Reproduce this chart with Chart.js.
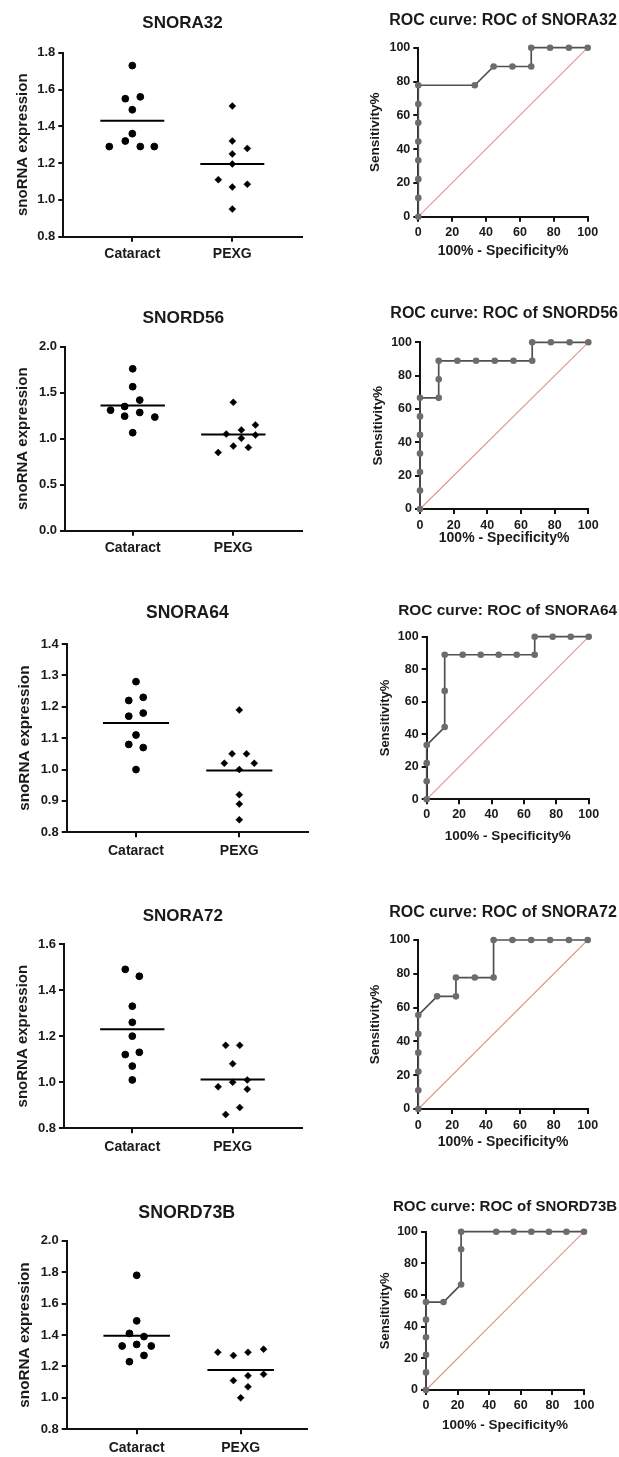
<!DOCTYPE html>
<html>
<head>
<meta charset="utf-8">
<script src="https://cdn.jsdelivr.net/npm/chart.js@4"></script>
<style>
html,body{margin:0;padding:0;background:#fff;overflow:hidden;width:619px;height:1457px;}
canvas{position:absolute;}
</style>
</head>
<body>
<script>
// ---------------- DATA ----------------
const categories = ['Cataract', 'PEXG'];
const geneNames = ['SNORA32', 'SNORD56', 'SNORA64', 'SNORA72', 'SNORD73B'];
const yAxisTitle = 'snoRNA expression';
const rocTitlePrefix = 'ROC curve: ROC of ';
const rocXTitle = '100% - Specificity%';
const rocYTitle = 'Sensitivity%';

// Scatter values (expression) and horizontal jitter within each column
const snora32Cataract = [1.73, 1.55, 1.56, 1.49, 1.36, 1.32, 1.29, 1.29, 1.29];
const snora32CataractJitter = [0, -0.07, 0.08, 0, 0, -0.07, -0.23, 0.08, 0.22];
const snora32Pexg = [1.51, 1.32, 1.28, 1.25, 1.195, 1.11, 1.085, 1.07, 0.95];
const snora32PexgJitter = [0, 0, 0.15, 0, 0, -0.14, 0.15, 0, 0];

const snord56Cataract = [1.76, 1.565, 1.42, 1.35, 1.31, 1.245, 1.285, 1.235, 1.065];
const snord56CataractJitter = [0, 0, 0.07, -0.08, -0.22, -0.08, 0.07, 0.22, 0];
const snord56Pexg = [1.395, 1.05, 1.095, 1.005, 1.15, 1.04, 0.92, 0.905, 0.85];
const snord56PexgJitter = [0, -0.07, 0.08, 0.08, 0.22, 0.22, 0, 0.15, -0.15];

const snora64Cataract = [1.28, 1.22, 1.23, 1.17, 1.18, 1.11, 1.08, 1.07, 1.0];
const snora64CataractJitter = [0, -0.07, 0.07, -0.07, 0.07, 0, -0.07, 0.07, 0];
const snora64Pexg = [1.19, 1.05, 1.05, 1.02, 1.02, 1.0, 0.92, 0.89, 0.84];
const snora64PexgJitter = [0, -0.07, 0.07, -0.145, 0.145, 0, 0, 0, 0];

const snora72Cataract = [1.49, 1.46, 1.33, 1.26, 1.2, 1.12, 1.13, 1.07, 1.01];
const snora72CataractJitter = [-0.07, 0.07, 0, 0, 0, -0.07, 0.07, 0, 0];
const snora72Pexg = [1.16, 1.16, 1.08, 0.98, 1.0, 1.01, 0.97, 0.89, 0.86];
const snora72PexgJitter = [-0.07, 0.07, 0, -0.145, 0, 0.145, 0.145, 0.07, -0.07];

const snord73bCataract = [1.78, 1.49, 1.41, 1.39, 1.33, 1.34, 1.33, 1.27, 1.23];
const snord73bCataractJitter = [0, 0, -0.07, 0.07, -0.14, 0, 0.14, 0.07, -0.07];
const snord73bPexg = [1.29, 1.27, 1.29, 1.31, 1.11, 1.14, 1.15, 1.07, 1.0];
const snord73bPexgJitter = [-0.22, -0.07, 0.07, 0.22, -0.07, 0.07, 0.22, 0.07, 0];

const cataractMeans = [1.43, 1.36, 1.148, 1.23, 1.396];
const pexgMeans = [1.195, 1.045, 0.997, 1.012, 1.178];

const scatterYMin = [0.8, 0.0, 0.8, 0.8, 0.8];
const scatterYMax = [1.8, 2.0, 1.4, 1.6, 2.0];
const scatterYStep = [0.2, 0.5, 0.1, 0.2, 0.2];

// ROC curves (x = 100% - Specificity%, y = Sensitivity%)
const snora32RocX = [0, 0, 0, 0, 0, 0, 0, 0, 33.33, 44.44, 55.56, 66.67, 66.67, 77.78, 88.89, 100];
const snora32RocY = [0, 11.11, 22.22, 33.33, 44.44, 55.56, 66.67, 77.78, 77.78, 88.89, 88.89, 88.89, 100, 100, 100, 100];
const snord56RocX = [0, 0, 0, 0, 0, 0, 0, 11.11, 11.11, 11.11, 22.22, 33.33, 44.44, 55.56, 66.67, 66.67, 77.78, 88.89, 100];
const snord56RocY = [0, 11.11, 22.22, 33.33, 44.44, 55.56, 66.67, 66.67, 77.78, 88.89, 88.89, 88.89, 88.89, 88.89, 88.89, 100, 100, 100, 100];
const snora64RocX = [0, 0, 0, 0, 11.11, 11.11, 11.11, 22.22, 33.33, 44.44, 55.56, 66.67, 66.67, 77.78, 88.89, 100];
const snora64RocY = [0, 11.11, 22.22, 33.33, 44.44, 66.67, 88.89, 88.89, 88.89, 88.89, 88.89, 88.89, 100, 100, 100, 100];
const snora72RocX = [0, 0, 0, 0, 0, 0, 11.11, 22.22, 22.22, 33.33, 44.44, 44.44, 55.56, 66.67, 77.78, 88.89, 100];
const snora72RocY = [0, 11.11, 22.22, 33.33, 44.44, 55.56, 66.67, 66.67, 77.78, 77.78, 77.78, 100, 100, 100, 100, 100, 100];
const snord73bRocX = [0, 0, 0, 0, 0, 0, 11.11, 22.22, 22.22, 22.22, 44.44, 55.56, 66.67, 77.78, 88.89, 100];
const snord73bRocY = [0, 11.11, 22.22, 33.33, 44.44, 55.56, 55.56, 66.67, 88.89, 100, 100, 100, 100, 100, 100, 100];
const diagonalX = [0, 100];
const diagonalY = [0, 100];
const rocAxisMin = 0, rocAxisMax = 100, rocAxisStep = 20;

// ---------------- LAYOUT (page pixels) ----------------
const scatterFrames = [
  {L:63.3, T:52.7,   R:301.7, B:236.7,  titleY:23.3,   titleSize:17,   yTitleX:22.7, yTitleSize:15,   xLabelY:254,    catPx:[132.3,232.3]},
  {L:65,   T:346.7,  R:301.7, B:530.7,  titleY:318.3,  titleSize:17.3, yTitleX:23.3, yTitleSize:15,   xLabelY:548.3,  catPx:[132.7,233.3]},
  {L:66.7, T:644,    R:308,   B:832.3,  titleY:613.3,  titleSize:17.5, yTitleX:25,   yTitleSize:15.3, xLabelY:850.7,  catPx:[136,239.3]},
  {L:64,   T:944,    R:301.7, B:1128.3, titleY:916,    titleSize:17,   yTitleX:23.3, yTitleSize:15,   xLabelY:1146.7, catPx:[132.3,232.7]},
  {L:66.7, T:1240.7, R:306.7, B:1429.3, titleY:1213.3, titleSize:17.8, yTitleX:25,   yTitleSize:15.3, xLabelY:1448,   catPx:[136.7,240.7]}
];
const rocFrames = [
  {L:418.3, T:47.7,   R:587.7, B:216.7,  titleY:20.7,   titleSize:16,   yTitleX:375.7, yTitleSize:13.5, xTitleY:250.7,  xTitleSize:14,   tickLabelY:233},
  {L:420,   T:342.3,  R:588.3, B:509,    titleY:313.3,  titleSize:16,   yTitleX:378.3, yTitleSize:13.5, xTitleY:538.3,  xTitleSize:14,   tickLabelY:525.7},
  {L:426.7, T:636.7,  R:588.7, B:799.3,  titleY:610.7,  titleSize:15.4, yTitleX:385,   yTitleSize:13,   xTitleY:836,    xTitleSize:13.5, tickLabelY:815},
  {L:418.3, T:940,    R:587.7, B:1109,   titleY:912.3,  titleSize:16,   yTitleX:375.7, yTitleSize:13.5, xTitleY:1141.7, xTitleSize:14,   tickLabelY:1125.7},
  {L:426,   T:1231.7, R:584,   B:1390,   titleY:1206.7, titleSize:15,   yTitleX:385,   yTitleSize:13,   xTitleY:1425,   xTitleSize:13.5, tickLabelY:1406}
];

// ---------------- STYLE ----------------
const FONT = "'Liberation Sans', Arial, Helvetica, sans-serif";
const TEXT = '#1a1a1a';
const AXIS = '#111111';
const TICK_LEN = 5;
const MEAN_HALF = 0.32;
const DIAG_COLOR = '#e2958a';

const scatterSets = [
  [snora32Cataract, snora32CataractJitter, snora32Pexg, snora32PexgJitter],
  [snord56Cataract, snord56CataractJitter, snord56Pexg, snord56PexgJitter],
  [snora64Cataract, snora64CataractJitter, snora64Pexg, snora64PexgJitter],
  [snora72Cataract, snora72CataractJitter, snora72Pexg, snora72PexgJitter],
  [snord73bCataract, snord73bCataractJitter, snord73bPexg, snord73bPexgJitter]
];
const rocSets = [
  [snora32RocX, snora32RocY], [snord56RocX, snord56RocY], [snora64RocX, snora64RocY],
  [snora72RocX, snora72RocY], [snord73bRocX, snord73bRocY]
];

function axisLook() {
  return {
    grid: {display:true, drawOnChartArea:false, drawTicks:true, tickLength:TICK_LEN, tickWidth:2, tickColor:AXIS, color:AXIS, lineWidth:2},
    border: {display:true, color:AXIS, width:2}
  };
}
function font(size) { return {family: FONT, size: size, weight: 'bold', lineHeight: 1.2}; }

function frame(g, xh) {
  const yLH = g.yTitleSize * 1.2;
  const cx = Math.floor(g.yTitleX - yLH / 2);
  const yTitlePad = g.yTitleX - yLH / 2 - cx;
  const yw = g.L - cx;
  const rightEdge = g.L + g.R - cx;
  const cw = Math.ceil(rightEdge - cx);
  const padRight = cx + cw - rightEdge;
  const tLH = g.titleSize * 1.2;
  const cy = Math.floor(g.titleY - tLH / 2);
  const titlePadTop = g.titleY - tLH / 2 - cy;
  const titlePadBottom = g.T - g.titleY - tLH / 2;
  const ch = Math.ceil(g.B + xh - cy);
  const padBottom = cy + ch - xh - g.B;
  return {cx, cy, cw, ch, yw, yTitlePad, padRight, padBottom, titlePadTop, titlePadBottom};
}

function makeCanvas(f) {
  const c = document.createElement('canvas');
  c.width = f.cw; c.height = f.ch;
  c.style.left = f.cx + 'px'; c.style.top = f.cy + 'px';
  c.style.width = f.cw + 'px'; c.style.height = f.ch + 'px';
  document.body.appendChild(c);
  return c;
}

function pts(xs, ys) { return xs.map((x, k) => ({x: x, y: ys[k]})); }

// ---------------- SCATTER PANELS ----------------
geneNames.forEach((gene, i) => {
  const g = scatterFrames[i];
  const xh = 30;
  const f = frame(g, xh);
  const unit = g.catPx[1] - g.catPx[0];
  const xMin = -(g.catPx[0] - g.L) / unit;
  const xMax = 1 + (g.R - g.catPx[1]) / unit;
  const labelPad = g.xLabelY - g.B - TICK_LEN - 14 * 1.2 / 2;
  const [cat, catJ, pex, pexJ] = scatterSets[i];
  const look = axisLook();
  new Chart(makeCanvas(f), {
    type: 'scatter',
    data: {
      datasets: [
        {label: categories[0], data: cat.map((v, k) => ({x: 0 + catJ[k], y: v})), pointStyle: 'circle', pointRadius: 3.4, pointBorderWidth: 1, backgroundColor: '#000', borderColor: '#000', clip: false},
        {label: categories[1], data: pex.map((v, k) => ({x: 1 + pexJ[k], y: v})), pointStyle: 'rectRot', pointRadius: 3.5, pointBorderWidth: 0.5, backgroundColor: '#000', borderColor: '#000', clip: false},
        {label: categories[0] + ' mean', data: [{x: 0 - MEAN_HALF, y: cataractMeans[i]}, {x: 0 + MEAN_HALF, y: cataractMeans[i]}], showLine: true, borderColor: '#000', borderWidth: 2, pointRadius: 0},
        {label: categories[1] + ' mean', data: [{x: 1 - MEAN_HALF, y: pexgMeans[i]}, {x: 1 + MEAN_HALF, y: pexgMeans[i]}], showLine: true, borderColor: '#000', borderWidth: 2, pointRadius: 0}
      ]
    },
    options: {
      responsive: false, animation: false, devicePixelRatio: 1,
      layout: {padding: {left: 0, top: 0, right: f.padRight, bottom: f.padBottom}},
      plugins: {
        legend: {display: false}, tooltip: {enabled: false},
        title: {display: true, text: gene, color: TEXT, font: font(g.titleSize), fullSize: true,
                padding: {top: f.titlePadTop, bottom: f.titlePadBottom}}
      },
      scales: {
        x: {
          type: 'linear', min: xMin, max: xMax,
          afterBuildTicks: s => { s.ticks = categories.map((c, k) => ({value: k})); },
          afterFit: s => { s.height = xh; },
          ticks: {callback: v => categories[v], color: TEXT, font: font(14), padding: labelPad, maxRotation: 0, autoSkip: false},
          grid: look.grid, border: look.border
        },
        y: {
          min: scatterYMin[i], max: scatterYMax[i],
          afterFit: s => { s.width = f.yw; },
          ticks: {stepSize: scatterYStep[i], callback: v => Number(v).toFixed(1), color: TEXT, font: font(13), padding: 3},
          title: {display: true, text: yAxisTitle, color: TEXT, font: font(g.yTitleSize), padding: {top: f.yTitlePad, bottom: 0}},
          grid: look.grid, border: look.border
        },
        yR: {
          position: 'right', display: true,
          afterFit: s => { s.width = f.yw; },
          grid: {display: false}, border: {display: false}, ticks: {display: false}
        }
      }
    }
  });
});

// ---------------- ROC PANELS ----------------
geneNames.forEach((gene, i) => {
  const g = rocFrames[i];
  const xLH = g.xTitleSize * 1.2;
  const xh = g.xTitleY + xLH / 2 - g.B;
  const f = frame(g, xh);
  const tickPad = g.tickLabelY - g.B - TICK_LEN - 12.5 * 1.2 / 2;
  const [rx, ry] = rocSets[i];
  const look = axisLook();
  new Chart(makeCanvas(f), {
    type: 'scatter',
    data: {
      datasets: [
        {label: 'ROC of ' + gene, data: pts(rx, ry), showLine: true, borderColor: '#505050', borderWidth: 1.7,
         pointRadius: 3.3, pointBorderWidth: 0, pointBackgroundColor: '#6c6c6c', pointBorderColor: '#6c6c6c', clip: false},
        {label: 'Reference', data: pts(diagonalX, diagonalY), showLine: true, borderColor: DIAG_COLOR, borderWidth: 1.1, pointRadius: 0, clip: false}
      ]
    },
    options: {
      responsive: false, animation: false, devicePixelRatio: 1,
      layout: {padding: {left: 0, top: 0, right: f.padRight, bottom: f.padBottom}},
      plugins: {
        legend: {display: false}, tooltip: {enabled: false},
        title: {display: true, text: rocTitlePrefix + gene, color: TEXT, font: font(g.titleSize), fullSize: true,
                padding: {top: f.titlePadTop, bottom: f.titlePadBottom}}
      },
      scales: {
        x: {
          type: 'linear', min: rocAxisMin, max: rocAxisMax,
          afterFit: s => { s.height = xh; },
          ticks: {stepSize: rocAxisStep, color: TEXT, font: font(12.5), padding: tickPad, maxRotation: 0},
          title: {display: true, text: rocXTitle, color: TEXT, font: font(g.xTitleSize), padding: {top: 0, bottom: 0}},
          grid: look.grid, border: look.border
        },
        y: {
          min: rocAxisMin, max: rocAxisMax,
          afterFit: s => { s.width = f.yw; },
          ticks: {stepSize: rocAxisStep, color: TEXT, font: font(12.5), padding: 3},
          title: {display: true, text: rocYTitle, color: TEXT, font: font(g.yTitleSize), padding: {top: f.yTitlePad, bottom: 0}},
          grid: look.grid, border: look.border
        },
        yR: {
          position: 'right', display: true,
          afterFit: s => { s.width = f.yw; },
          grid: {display: false}, border: {display: false}, ticks: {display: false}
        }
      }
    }
  });
});
</script>
</body>
</html>
